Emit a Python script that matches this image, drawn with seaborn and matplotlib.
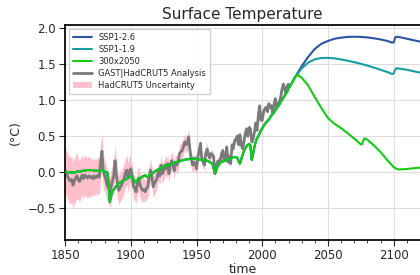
import matplotlib

matplotlib.use("Agg")
import numpy as np
import seaborn as sns
from matplotlib import pyplot as plt
from matplotlib.patches import Patch
from matplotlib.ticker import MultipleLocator

# --- model historical run (shared by all scenarios), annual 1850-2022 ---
hist_years = list(range(1850, 2023))
model_hist = [
    0.00, 0.00, -0.01, 0.00, 0.00, -0.01, 0.00, -0.01, 0.00, 0.01,
    0.01, 0.01, 0.01, 0.02, 0.02, 0.02, 0.03, 0.03, 0.03, 0.03,
    0.03, 0.03, 0.02, 0.02, 0.02, 0.02, 0.02, 0.03, 0.03, 0.02,
    0.01, 0.00, 0.00, -0.12, -0.41, -0.33, -0.27, -0.24, -0.22, -0.19,
    -0.17, -0.15, -0.14, -0.13, -0.12, -0.11, -0.10, -0.09, -0.08, -0.07,
    -0.06, -0.06, -0.10, -0.14, -0.13, -0.11, -0.10, -0.09, -0.07, -0.06,
    -0.05, -0.04, -0.06, -0.07, -0.05, -0.03, -0.02, -0.01, 0.01, 0.02,
    0.03, 0.04, 0.05, 0.06, 0.07, 0.08, 0.09, 0.09, 0.10, 0.11,
    0.11, 0.12, 0.12, 0.13, 0.14, 0.14, 0.15, 0.15, 0.16, 0.16,
    0.17, 0.17, 0.18, 0.18, 0.18, 0.19, 0.19, 0.19, 0.19, 0.19,
    0.18, 0.18, 0.18, 0.17, 0.17, 0.17, 0.17, 0.17, 0.16, 0.15,
    0.14, 0.13, 0.12, 0.05, -0.01, 0.03, 0.08, 0.11, 0.13, 0.14,
    0.15, 0.16, 0.16, 0.17, 0.18, 0.18, 0.19, 0.20, 0.21, 0.21,
    0.21, 0.20, 0.15, 0.12, 0.18, 0.24, 0.29, 0.33, 0.36, 0.38,
    0.39, 0.37, 0.17, 0.25, 0.35, 0.42, 0.47, 0.50, 0.54, 0.58,
    0.61, 0.64, 0.67, 0.69, 0.71, 0.73, 0.76, 0.79, 0.81, 0.83,
    0.86, 0.89, 0.91, 0.94, 0.97, 1.00, 1.03, 1.06, 1.09, 1.12,
    1.16, 1.19, 1.22,
]

# --- scenario projections ---
ssp126_years = [2022, 2025, 2030, 2035, 2040, 2045, 2050, 2055, 2060, 2065,
                2070, 2075, 2080, 2085, 2090, 2095, 2099, 2100, 2101, 2102,
                2105, 2110, 2115, 2120]
ssp126 = [1.22, 1.32, 1.47, 1.60, 1.71, 1.78, 1.82, 1.85, 1.865, 1.875,
          1.878, 1.875, 1.868, 1.856, 1.84, 1.82, 1.795, 1.80, 1.86, 1.878,
          1.87, 1.85, 1.83, 1.81]

ssp119_years = ssp126_years
ssp119 = [1.22, 1.32, 1.44, 1.52, 1.565, 1.583, 1.585, 1.578, 1.563, 1.545,
          1.525, 1.503, 1.478, 1.45, 1.42, 1.39, 1.36, 1.37, 1.42, 1.44,
          1.435, 1.42, 1.40, 1.38]

s300_years = [2022, 2025, 2027, 2030, 2035, 2040, 2045, 2050, 2055, 2060,
              2065, 2070, 2075, 2076, 2077, 2078, 2080, 2085, 2090, 2095,
              2100, 2103, 2105, 2110, 2115, 2120]
s300 = [1.22, 1.32, 1.35, 1.31, 1.20, 1.04, 0.89, 0.75, 0.67, 0.61,
        0.54, 0.465, 0.385, 0.39, 0.45, 0.47, 0.45, 0.37, 0.28, 0.17,
        0.07, 0.04, 0.04, 0.045, 0.055, 0.065]

# --- observations: GAST | HadCRUT5, annual 1850-2020 ---
obs_years = list(range(1850, 2021))
gast = [
    0.03, -0.02, -0.06, -0.10, -0.12, -0.10, -0.18, -0.12, -0.08, -0.05,
    -0.10, -0.13, -0.08, -0.04, -0.09, -0.04, -0.06, -0.08, -0.05, -0.07,
    -0.06, -0.09, -0.05, -0.08, -0.06, -0.04, -0.07, 0.15, 0.29, 0.03,
    -0.05, -0.10, -0.18, -0.22, -0.27, -0.20, -0.12, -0.05, 0.16, -0.05,
    -0.18, -0.25, -0.20, -0.18, -0.12, -0.08, 0.00, 0.03, -0.08, 0.02,
    0.05, -0.05, -0.20, -0.22, -0.27, -0.15, -0.08, -0.18, -0.22, -0.25,
    -0.24, -0.27, -0.22, -0.20, -0.05, 0.03, -0.07, -0.20, -0.15, -0.12,
    -0.08, 0.02, -0.05, 0.10, -0.02, 0.02, 0.10, 0.05, 0.12, -0.02,
    0.10, 0.16, 0.12, 0.02, 0.14, 0.10, 0.14, 0.26, 0.28, 0.30,
    0.35, 0.42, 0.38, 0.40, 0.49, 0.30, 0.18, 0.10, 0.14, 0.12,
    0.05, 0.22, 0.30, 0.40, 0.18, 0.14, 0.10, 0.26, 0.32, 0.24,
    0.20, 0.26, 0.24, 0.22, -0.02, 0.06, 0.15, 0.16, 0.14, 0.26,
    0.30, 0.16, 0.21, 0.35, 0.14, 0.22, 0.12, 0.38, 0.33, 0.44,
    0.46, 0.50, 0.38, 0.52, 0.38, 0.33, 0.42, 0.53, 0.60, 0.50,
    0.62, 0.60, 0.42, 0.46, 0.55, 0.68, 0.58, 0.78, 0.92, 0.72,
    0.72, 0.84, 0.88, 0.90, 0.84, 0.95, 0.90, 0.92, 0.82, 0.95,
    1.02, 0.90, 0.94, 0.97, 1.04, 1.15, 1.22, 1.15, 1.10, 1.20,
    1.22,
]
# half-width of the HadCRUT5 uncertainty band, one value per decade
unc_decadal = [0.32, 0.28, 0.25, 0.22, 0.20, 0.17, 0.15, 0.13, 0.12,
               0.11, 0.08, 0.06, 0.05, 0.05, 0.04, 0.04, 0.04, 0.04]

COLORS = {
    "SSP1-2.6": "#2b55a3",
    "SSP1-1.9": "#14a0a0",
    "300x2050": "#11cc11",
    "gast": "#7a7a7a",
    "unc": "#ffc0cb",
}


def main() -> None:
    sns.set_theme(
        style="ticks",
        rc={
            "axes.grid": True,
            "grid.color": "#dddddd",
            "grid.linewidth": 0.8,
            "axes.edgecolor": "black",
            "xtick.labelsize": 8.5,
            "ytick.labelsize": 8.5,
        },
    )
    plt.rcParams["font.family"] = ["DejaVu Sans"]

    fig = plt.figure(figsize=(4.2, 2.75), dpi=100)
    ax = fig.add_axes([0.155, 0.127, 0.845, 0.782])

    half = np.repeat(unc_decadal, 10)[: len(gast)]
    gast_arr = np.array(gast)
    ax.fill_between(obs_years, gast_arr - half, gast_arr + half,
                    color=COLORS["unc"], lw=0, zorder=1)
    sns.lineplot(x=obs_years, y=gast, color=COLORS["gast"], lw=2,
                 ax=ax, zorder=2)

    for name, yrs, fut in [
        ("SSP1-2.6", ssp126_years, ssp126),
        ("SSP1-1.9", ssp119_years, ssp119),
        ("300x2050", s300_years, s300),
    ]:
        sns.lineplot(x=hist_years + yrs[1:], y=model_hist + fut[1:],
                     color=COLORS[name], lw=1.5, ax=ax, zorder=3)

    handles = [
        plt.Line2D([], [], color=COLORS["SSP1-2.6"], lw=1.5),
        plt.Line2D([], [], color=COLORS["SSP1-1.9"], lw=1.5),
        plt.Line2D([], [], color=COLORS["300x2050"], lw=1.5),
        plt.Line2D([], [], color=COLORS["gast"], lw=2),
        Patch(facecolor=COLORS["unc"], edgecolor="none"),
    ]
    labels = ["SSP1-2.6", "SSP1-1.9", "300x2050",
              "GAST|HadCRUT5 Analysis", "HadCRUT5 Uncertainty"]
    ax.legend(handles, labels, loc="upper left", fontsize=6,
              frameon=True, framealpha=0.9, edgecolor="#cccccc",
              handlelength=2.2, labelspacing=0.35, borderpad=0.5)

    ax.set_xlim(1850, 2120)
    ax.set_ylim(-0.94, 2.04)
    ax.xaxis.set_major_locator(MultipleLocator(50))
    ax.xaxis.set_minor_locator(MultipleLocator(10))
    ax.yaxis.set_major_locator(MultipleLocator(0.5))
    ax.tick_params(axis="both", which="major", length=4, width=0.8, pad=2.5)
    ax.tick_params(axis="x", which="minor", length=2, width=0.6)
    ax.spines["right"].set_visible(False)

    ax.set_title("Surface Temperature", fontsize=11, pad=4)
    ax.set_xlabel("time", fontsize=9, labelpad=1)
    ax.set_ylabel("(°C)", fontsize=9, labelpad=4)

    fig.savefig("out.png", dpi=100)
    plt.close(fig)


if __name__ == "__main__":
    main()
